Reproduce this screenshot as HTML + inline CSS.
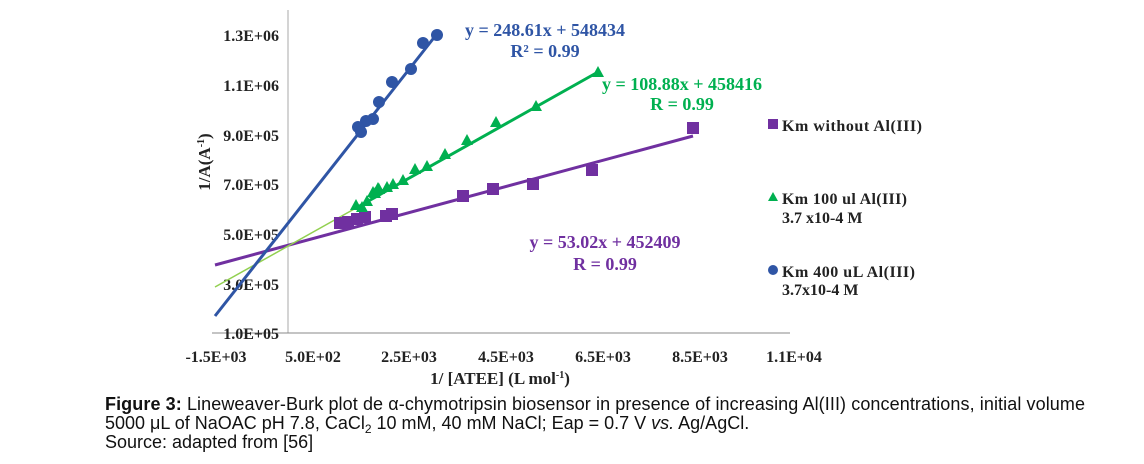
<!DOCTYPE html>
<html><head><meta charset="utf-8"><style>
body{margin:0;background:#fff;width:1144px;height:464px;overflow:hidden}
svg{display:block}
.t{font-family:"Liberation Serif",serif;font-weight:bold;font-size:16px;fill:#222}
.cap{font-family:"Liberation Sans",sans-serif;font-size:18px;fill:#111}
</style></head><body>
<svg width="1144" height="464" viewBox="0 0 1144 464">
<line x1="288" y1="10" x2="288" y2="333" stroke="#aaa" stroke-width="1"/>
<line x1="212" y1="333" x2="790" y2="333" stroke="#888" stroke-width="1"/>
<g class="t" text-anchor="end">
<text x="279" y="41">1.3E+06</text>
<text x="279" y="91">1.1E+06</text>
<text x="279" y="141">9.0E+05</text>
<text x="279" y="190">7.0E+05</text>
<text x="279" y="240">5.0E+05</text>
<text x="279" y="290">3.0E+05</text>
<text x="279" y="339">1.0E+05</text>
</g>
<g class="t" text-anchor="middle">
<text x="216" y="362">-1.5E+03</text>
<text x="313" y="362">5.0E+02</text>
<text x="409" y="362">2.5E+03</text>
<text x="506" y="362">4.5E+03</text>
<text x="603" y="362">6.5E+03</text>
<text x="700" y="362">8.5E+03</text>
<text x="794" y="362">1.1E+04</text>
<text x="500" y="384" font-size="17">1/  [ATEE] (L mol<tspan font-size="10" dy="-6">-1</tspan><tspan dy="6">)</tspan></text>
<text transform="translate(210,162) rotate(-90)" font-size="17">1/A(A<tspan font-size="10" dy="-6">-1</tspan><tspan dy="6">)</tspan></text>
</g>
<line x1="215" y1="265" x2="693" y2="136" stroke="#7030a0" stroke-width="3"/>
<line x1="215" y1="287" x2="356" y2="208" stroke="#92d050" stroke-width="1.5"/>
<line x1="356" y1="208" x2="598" y2="72" stroke="#00b050" stroke-width="3"/>
<line x1="215" y1="316" x2="440" y2="30" stroke="#2f55a5" stroke-width="3"/>
<g fill="#7030a0">
<rect x="334" y="217" width="12" height="12"/><rect x="342" y="216" width="12" height="12"/>
<rect x="351" y="213" width="12" height="12"/><rect x="359" y="211" width="12" height="12"/>
<rect x="380" y="210" width="12" height="12"/><rect x="386" y="208" width="12" height="12"/>
<rect x="457" y="190" width="12" height="12"/><rect x="487" y="183" width="12" height="12"/>
<rect x="527" y="178" width="12" height="12"/><rect x="586" y="164" width="12" height="12"/>
<rect x="687" y="122" width="12" height="12"/>
</g>
<g fill="#00b050">
<path d="M598 66l6 11h-12z"/><path d="M536 100l6 11h-12z"/><path d="M496 116l6 11h-12z"/>
<path d="M467 134l6 11h-12z"/><path d="M445 148l6 11h-12z"/><path d="M427 160l6 11h-12z"/>
<path d="M415 163l6 11h-12z"/><path d="M403 174l6 11h-12z"/><path d="M393 178l6 11h-12z"/>
<path d="M387 181l6 11h-12z"/><path d="M378 182l6 11h-12z"/><path d="M373 186l6 11h-12z"/>
<path d="M356 199l6 11h-12z"/><path d="M362 201l6 11h-12z"/><path d="M367 195l6 11h-12z"/>
<path d="M375 187l6 11h-12z"/><path d="M379 183l6 11h-12z"/>
</g>
<g fill="#2f55a5">
<circle cx="437" cy="35" r="6"/><circle cx="423" cy="43" r="6"/><circle cx="411" cy="69" r="6"/>
<circle cx="392" cy="82" r="6"/><circle cx="379" cy="102" r="6"/><circle cx="373" cy="119" r="6"/>
<circle cx="366" cy="121" r="6"/><circle cx="358" cy="127" r="6"/><circle cx="361" cy="132" r="6"/>
</g>
<g font-family="Liberation Serif,serif" font-weight="bold" font-size="18" text-anchor="middle">
<text x="545" y="36" fill="#2f55a5">y = 248.61x + 548434</text>
<text x="545" y="57" fill="#2f55a5">R² = 0.99</text>
<text x="682" y="90" fill="#00b050">y = 108.88x + 458416</text>
<text x="682" y="110" fill="#00b050">R = 0.99</text>
<text x="605" y="248" fill="#7030a0">y = 53.02x + 452409</text>
<text x="605" y="270" fill="#7030a0">R = 0.99</text>
</g>
<rect x="768" y="119" width="10" height="10" fill="#7030a0"/>
<path d="M773 192l5 9h-10z" fill="#00b050"/>
<circle cx="773" cy="270" r="5" fill="#2f55a5"/>
<g class="t" font-size="17">
<text x="782" y="131" textLength="140">Km without  Al(III)</text>
<text x="782" y="204" textLength="125">Km 100 ul Al(III)</text>
<text x="782" y="223">3.7 x10-4 M</text>
<text x="782" y="277" textLength="133">Km 400 uL Al(III)</text>
<text x="782" y="295">3.7x10-4 M</text>
</g>
<g class="cap">
<text x="105" y="410" textLength="980"><tspan font-weight="bold">Figure 3:</tspan> Lineweaver-Burk plot de α-chymotripsin biosensor in presence of increasing Al(III) concentrations, initial volume</text>
<text x="105" y="429">5000 μL of NaOAC pH 7.8, CaCl<tspan font-size="12" dy="4">2</tspan><tspan dy="-4"> 10 mM, 40 mM NaCl; Eap = 0.7 V </tspan><tspan font-style="italic">vs.</tspan> Ag/AgCl.</text>
<text x="105" y="448">Source: adapted from [56]</text>
</g>
</svg>
</body></html>
